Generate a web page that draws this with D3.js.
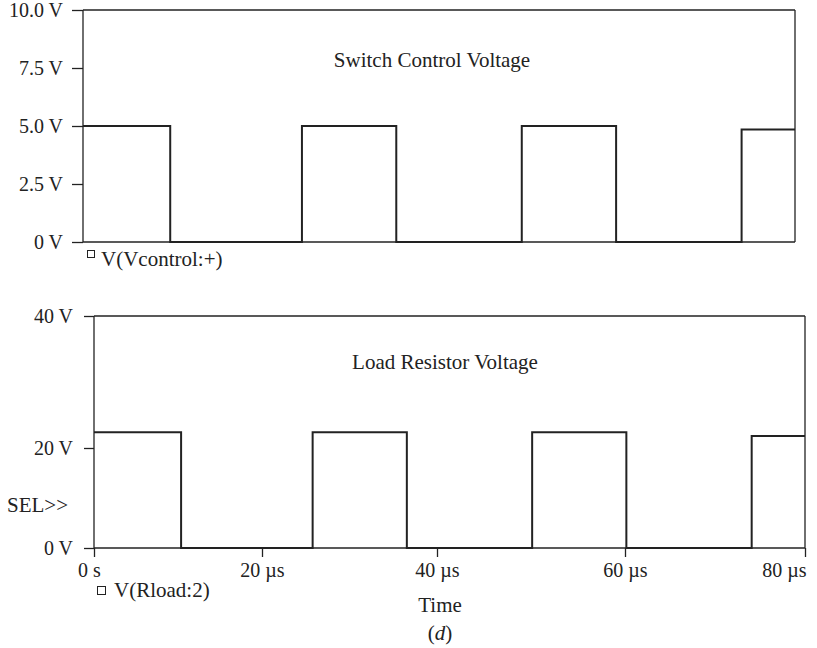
<!DOCTYPE html>
<html>
<head>
<meta charset="utf-8">
<script src="https://cdn.jsdelivr.net/npm/d3@7"></script>
<style>
  body { margin: 0; background: #fff; }
  text { font-family: "Liberation Serif", "Times New Roman", serif; fill: #222; }
</style>
</head>
<body>
<svg id="chart" width="817" height="648"></svg>
<script>
// switching instants (µs)
const edgeTimes = [0, 9.8, 24.6, 35.2, 49.3, 59.9, 74.0, 80];
// level held after each instant
const controlLevels = [5.0, 0, 5.0, 0, 5.0, 0, 4.85, 4.85];
const loadLevels = [22.4, 0, 22.4, 0, 22.4, 0, 21.8, 21.8];

const controlTicks = [0, 2.5, 5, 7.5, 10];
const controlTickLabels = ["0 V", "2.5 V", "5.0 V", "7.5 V", "10.0 V"];
const loadTicks = [0, 20, 40];
const loadTickLabels = ["0 V", "20 V", "40 V"];
const timeTicks = [0, 20, 40, 60, 80];
const timeTickLabels = ["0 s", "20 µs", "40 µs", "60 µs", "80 µs"];

const svg = d3.select("#chart");
const ink = "#222";
const tickFont = 20;
const textFont = 21;

function toPoints(levels) {
    return edgeTimes.map((t, i) => ({ t: t, v: levels[i] }));
}

// ---- top panel: switch control voltage ----
const x1 = d3.scaleLinear().domain([0, 80]).range([83, 795]);
const y1 = d3.scaleLinear().domain([0, 10]).range([242, 10]);

const topPanel = svg.append("g");

// frame: left axis, top line, right border, bottom line
topPanel.append("line").attr("x1", 83).attr("x2", 83).attr("y1", y1(10)).attr("y2", y1(0))
    .attr("stroke", ink).attr("stroke-width", 1.3);
topPanel.append("line").attr("x1", 83).attr("x2", 795).attr("y1", y1(10)).attr("y2", y1(10))
    .attr("stroke", ink).attr("stroke-width", 1.3);
topPanel.append("line").attr("x1", 795).attr("x2", 795).attr("y1", y1(10)).attr("y2", y1(0))
    .attr("stroke", ink).attr("stroke-width", 1.3);
topPanel.append("line").attr("x1", 83).attr("x2", 795).attr("y1", y1(0)).attr("y2", y1(0))
    .attr("stroke", ink).attr("stroke-width", 1.3);

const yAxis1 = d3.axisLeft(y1).tickValues(controlTicks)
    .tickFormat((d, i) => controlTickLabels[i]).tickSize(11).tickPadding(9);
topPanel.append("g").attr("transform", "translate(83,0)").call(yAxis1)
    .call(g => g.select(".domain").remove())
    .call(g => g.selectAll(".tick line").attr("stroke", ink).attr("stroke-width", 1.3))
    .call(g => g.selectAll(".tick text").attr("font-size", tickFont).attr("fill", ink)
        .style("font-family", "Liberation Serif"));

const step1 = d3.line().curve(d3.curveStepAfter).x(d => x1(d.t)).y(d => y1(d.v));
topPanel.append("path").datum(toPoints(controlLevels))
    .attr("fill", "none").attr("stroke", ink).attr("stroke-width", 2).attr("d", step1);

topPanel.append("text").attr("x", 432).attr("y", 67).attr("text-anchor", "middle")
    .attr("font-size", textFont).text("Switch Control Voltage");

topPanel.append("rect").attr("x", 87.5).attr("y", 250.5).attr("width", 7).attr("height", 7)
    .attr("fill", "none").attr("stroke", ink).attr("stroke-width", 1);
topPanel.append("text").attr("x", 101).attr("y", 266).attr("font-size", textFont).text("V(Vcontrol:+)");

// ---- bottom panel: load resistor voltage ----
const x2 = d3.scaleLinear().domain([0, 80]).range([94, 805]);
// the printed figure places its time ticks a little unevenly; follow the picture
const xTick = d3.scaleLinear().domain(timeTicks).range([94, 262, 437, 625, 805]);
// the printed plot spaces 0–20 V and 20–40 V unevenly; follow the picture
const y2 = d3.scaleLinear().domain([0, 20, 40]).range([548, 448, 316]);

const botPanel = svg.append("g");

botPanel.append("line").attr("x1", 94).attr("x2", 94).attr("y1", y2(40)).attr("y2", y2(0))
    .attr("stroke", ink).attr("stroke-width", 1.3);
botPanel.append("line").attr("x1", 94).attr("x2", 805).attr("y1", y2(40)).attr("y2", y2(40))
    .attr("stroke", ink).attr("stroke-width", 1.3);
botPanel.append("line").attr("x1", 805).attr("x2", 805).attr("y1", y2(40)).attr("y2", y2(0))
    .attr("stroke", ink).attr("stroke-width", 1.3);
botPanel.append("line").attr("x1", 94).attr("x2", 805).attr("y1", y2(0)).attr("y2", y2(0))
    .attr("stroke", ink).attr("stroke-width", 1.3);

const yAxis2 = d3.axisLeft(y2).tickValues(loadTicks)
    .tickFormat((d, i) => loadTickLabels[i]).tickSize(10).tickPadding(11);
botPanel.append("g").attr("transform", "translate(94,0)").call(yAxis2)
    .call(g => g.select(".domain").remove())
    .call(g => g.selectAll(".tick line").attr("stroke", ink).attr("stroke-width", 1.3))
    .call(g => g.selectAll(".tick text").attr("font-size", tickFont).attr("fill", ink)
        .style("font-family", "Liberation Serif"));

const xAxis2 = d3.axisBottom(xTick).tickValues(timeTicks)
    .tickFormat((d, i) => timeTickLabels[i]).tickSize(9).tickPadding(6);
botPanel.append("g").attr("transform", "translate(0,548)").call(xAxis2)
    .call(g => g.select(".domain").remove())
    .call(g => g.selectAll(".tick line").attr("stroke", ink).attr("stroke-width", 1.3))
    .call(g => g.selectAll(".tick text").attr("font-size", tickFont).attr("fill", ink)
        .style("font-family", "Liberation Serif"))
    .call(g => g.selectAll(".tick text").filter(d => d === 80)
        .attr("text-anchor", "end").attr("dx", 1))
    .call(g => g.selectAll(".tick text").filter(d => d === 0).attr("dx", -5));

const step2 = d3.line().curve(d3.curveStepAfter).x(d => x2(d.t)).y(d => y2(d.v));
botPanel.append("path").datum(toPoints(loadLevels))
    .attr("fill", "none").attr("stroke", ink).attr("stroke-width", 2).attr("d", step2);

botPanel.append("text").attr("x", 445).attr("y", 369).attr("text-anchor", "middle")
    .attr("font-size", textFont).text("Load Resistor Voltage");

botPanel.append("text").attr("x", 7).attr("y", 512).attr("font-size", textFont).text("SEL>>");

botPanel.append("rect").attr("x", 97.5).attr("y", 586.5).attr("width", 8).attr("height", 8)
    .attr("fill", "none").attr("stroke", ink).attr("stroke-width", 1);
botPanel.append("text").attr("x", 114).attr("y", 597).attr("font-size", textFont).text("V(Rload:2)");

svg.append("text").attr("x", 440).attr("y", 612).attr("text-anchor", "middle")
    .attr("font-size", textFont).text("Time");

const cap = svg.append("text").attr("x", 440).attr("y", 640).attr("text-anchor", "middle")
    .attr("font-size", textFont);
cap.append("tspan").text("(");
cap.append("tspan").attr("font-style", "italic").text("d");
cap.append("tspan").text(")");
</script>
</body>
</html>
